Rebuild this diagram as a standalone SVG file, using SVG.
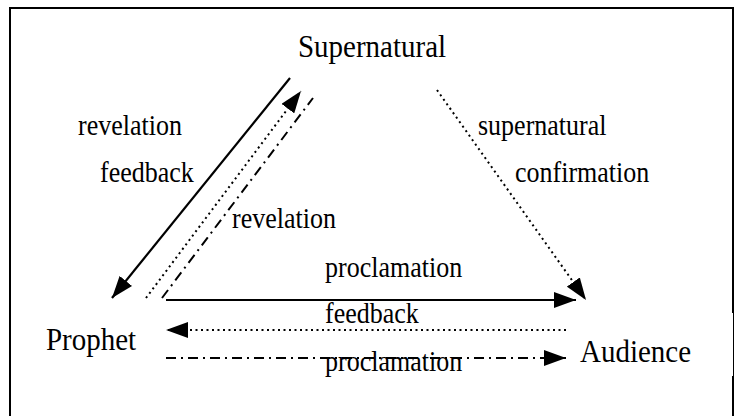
<svg xmlns="http://www.w3.org/2000/svg" width="738" height="416" viewBox="0 0 738 416">
<style>
text{font-family:"Liberation Serif","Times New Roman",serif;fill:#000}
.node{font-size:29px}
.lbl{font-size:26px}
.solid{stroke:#000;stroke-width:2.2;fill:none}
.dot{stroke:#000;stroke-width:2;fill:none;stroke-dasharray:2 3.5}
.dashdot{stroke:#000;stroke-width:2;fill:none;stroke-dasharray:10 5 2 5}
</style>
<defs>
<marker id="ah" markerUnits="userSpaceOnUse" markerWidth="22" markerHeight="16" viewBox="0 0 22 16" refX="22" refY="8" orient="auto">
<path d="M0,0 L22,8 L0,16 Z" fill="#000"/>
</marker>
</defs>
<rect width="738" height="416" fill="#fff"/>
<g id="frame" fill="none" stroke="#000">
<path d="M10,416 V8 H733 V313" stroke-width="2"/>
<path d="M733.5,313 V376" stroke-width="1"/>
<path d="M733,376 V416" stroke-width="2"/>
</g>
<g id="supernatural"><text class="node" transform="translate(298,57) scale(1,1.1)">Supernatural</text></g>
<g id="prophet"><text class="node" transform="translate(46,350) scale(1,1.1)">Prophet</text></g>
<g id="audience"><text class="node" transform="translate(580,362) scale(1,1.1)">Audience</text></g>
<g id="connectors">
<line class="solid" x1="290" y1="78" x2="112" y2="298" marker-end="url(#ah)"/>
<line class="dot" x1="146" y1="298" x2="301" y2="91" marker-end="url(#ah)"/>
<line class="dashdot" x1="162" y1="298" x2="313" y2="98"/>
<line class="dot" x1="437" y1="90" x2="586" y2="300" marker-end="url(#ah)"/>
<line class="solid" x1="166" y1="300" x2="576" y2="300" marker-end="url(#ah)"/>
<line class="dot" x1="566" y1="330" x2="166" y2="330" marker-end="url(#ah)"/>
<line class="dashdot" x1="166" y1="358" x2="566" y2="358" marker-end="url(#ah)"/>
</g>
<g id="labels">
<text class="lbl" transform="translate(78,135) scale(1,1.12)">revelation</text>
<text class="lbl" transform="translate(100,182) scale(1,1.12)">feedback</text>
<text class="lbl" transform="translate(232,228) scale(1,1.12)">revelation</text>
<text class="lbl" transform="translate(478,135) scale(1,1.12)">supernatural</text>
<text class="lbl" transform="translate(515,182) scale(1,1.12)">confirmation</text>
<text class="lbl" transform="translate(325,277) scale(1,1.12)">proclamation</text>
<text class="lbl" transform="translate(325,323) scale(1,1.12)">feedback</text>
<text class="lbl" transform="translate(325,371) scale(1,1.12)">proclamation</text>
</g>
</svg>
